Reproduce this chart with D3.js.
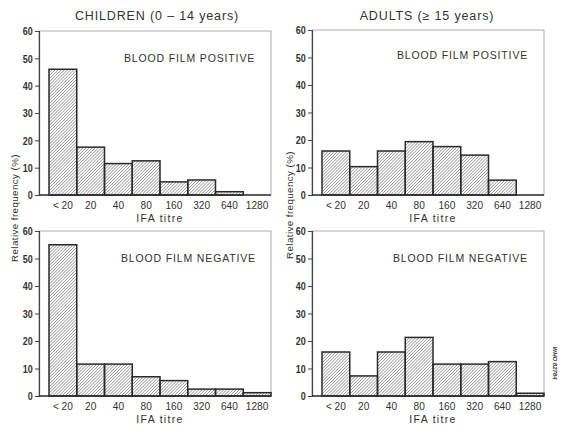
<!DOCTYPE html>
<html>
<head>
<meta charset="utf-8">
<script src="https://cdn.jsdelivr.net/npm/d3@7"></script>
<style>
  body { margin: 0; background: #fff; }
  svg { display: block; }
  text { fill: #333; font-family: "Liberation Sans", Arial, sans-serif; }
</style>
</head>
<body>
<div id="chart"></div>
<script>
// IFA titre categories and relative frequency (%) per group
const titres = ["< 20", "20", "40", "80", "160", "320", "640", "1280"];
const childPositive = [46, 17.5, 11.5, 12.5, 4.8, 5.5, 1.2, 0];
const childNegative = [55, 11.6, 11.6, 7, 5.6, 2.5, 2.5, 1.2];
const adultPositive = [16, 10.3, 16, 19.4, 17.6, 14.5, 5.4, 0];
const adultNegative = [16, 7.3, 16, 21.3, 11.6, 11.6, 12.5, 1];
const yTicks = [0, 10, 20, 30, 40, 50, 60];

const W = 563, H = 426;

const svg = d3.select("#chart").append("svg")
    .attr("width", W)
    .attr("height", H);

// hatch fill
const defs = svg.append("defs");
defs.append("pattern")
    .attr("id", "hatch")
    .attr("patternUnits", "userSpaceOnUse")
    .attr("width", 2.2)
    .attr("height", 2.2)
    .attr("patternTransform", "rotate(45)")
    .append("line")
    .attr("x1", 0).attr("y1", 0)
    .attr("x2", 0).attr("y2", 2.2)
    .attr("stroke", "#555")
    .attr("stroke-width", 0.9);

const panels = [
  {values: childPositive, label: "BLOOD FILM POSITIVE", left: 39, right: 271, top: 31, bottom: 195, lx: 124, ly: 62},
  {values: adultPositive, label: "BLOOD FILM POSITIVE", left: 312, right: 544, top: 30, bottom: 195, lx: 397, ly: 59},
  {values: childNegative, label: "BLOOD FILM NEGATIVE", left: 39, right: 271, top: 231, bottom: 396, lx: 121, ly: 262},
  {values: adultNegative, label: "BLOOD FILM NEGATIVE", left: 312, right: 544, top: 231, bottom: 396, lx: 393, ly: 262}
];

panels.forEach(function(p) {
  var g = svg.append("g");

  var x = d3.scaleBand()
    .domain(titres)
    .range([p.left + 10, p.right])
    .padding(0);

  var y = d3.scaleLinear()
    .domain([0, 60])
    .range([p.bottom, p.top]);

  // frame
  g.append("rect")
    .attr("x", p.left)
    .attr("y", p.top)
    .attr("width", p.right - p.left)
    .attr("height", p.bottom - p.top)
    .attr("fill", "none")
    .attr("stroke", "#999")
    .attr("stroke-width", 0.8);

  // y axis
  var ya = g.append("g")
    .attr("transform", "translate(" + p.left + ",0)")
    .call(d3.axisLeft(y).tickValues(yTicks).tickSize(4));
  ya.select(".domain").attr("stroke", "#444").attr("stroke-width", 1.2);
  ya.selectAll(".tick line").attr("stroke", "#444").attr("stroke-width", 1);
  ya.selectAll("text")
    .attr("x", -8)
    .attr("transform", "scale(0.78,1)")
    .style("font-size", "11.5px")
    .style("font-weight", "bold")
    .attr("fill", "#444");

  // x axis labels
  var xa = g.append("g")
    .attr("transform", "translate(0," + p.bottom + ")")
    .call(d3.axisBottom(x).tickSize(0).tickPadding(6));
  xa.select(".domain").remove();
  xa.selectAll("text")
    .attr("transform", "scale(0.88,1)")
    .style("font-size", "11.5px")
    .attr("fill", "#333");

  // baseline
  g.append("line")
    .attr("x1", p.left).attr("x2", p.right)
    .attr("y1", y(0)).attr("y2", y(0))
    .attr("stroke", "#333")
    .attr("stroke-width", 1.4);

  // bars
  g.selectAll("rect.bar")
    .data(p.values)
    .enter()
    .append("rect")
    .attr("class", "bar")
    .attr("x", function(d, i) { return x(titres[i]); })
    .attr("y", function(d) { return y(d); })
    .attr("width", x.bandwidth())
    .attr("height", function(d) { return y(0) - y(d); })
    .attr("fill", "url(#hatch)")
    .attr("stroke", "#2a2a2a")
    .attr("stroke-width", 1.5);

  g.append("text")
    .attr("x", p.lx)
    .attr("y", p.ly)
    .style("font-size", "10.5px")
    .style("letter-spacing", "0.85px")
    .text(p.label);

  g.append("text")
    .attr("x", (p.left + p.right) / 2 + 5)
    .attr("y", p.bottom + 27)
    .attr("text-anchor", "middle")
    .style("font-size", "10.5px")
    .style("letter-spacing", "1.3px")
    .text("IFA titre");
});

// column titles
svg.append("text")
  .attr("x", 157).attr("y", 20)
  .attr("text-anchor", "middle")
  .style("font-size", "12.5px")
  .style("letter-spacing", "0.85px")
  .text("CHILDREN (0 \u2013 14 years)");

svg.append("text")
  .attr("x", 427).attr("y", 20)
  .attr("text-anchor", "middle")
  .style("font-size", "12.5px")
  .style("letter-spacing", "0.85px")
  .text("ADULTS (\u2265 15 years)");

// y labels
[[15, 208], [290, 205]].forEach(function(c) {
  svg.append("text")
    .attr("transform", "translate(" + (c[0] + 3) + "," + c[1] + ") rotate(-90)")
    .attr("text-anchor", "middle")
    .style("font-size", "9.8px")
    .style("letter-spacing", "0.4px")
    .text("Relative frequency (%)");
});

svg.append("text")
  .attr("transform", "translate(553,363) rotate(90)")
  .attr("text-anchor", "middle")
  .style("font-size", "6px")
  .style("font-style", "italic")
  .style("font-weight", "bold")
  .text("WHO 82784");
</script>
</body>
</html>
